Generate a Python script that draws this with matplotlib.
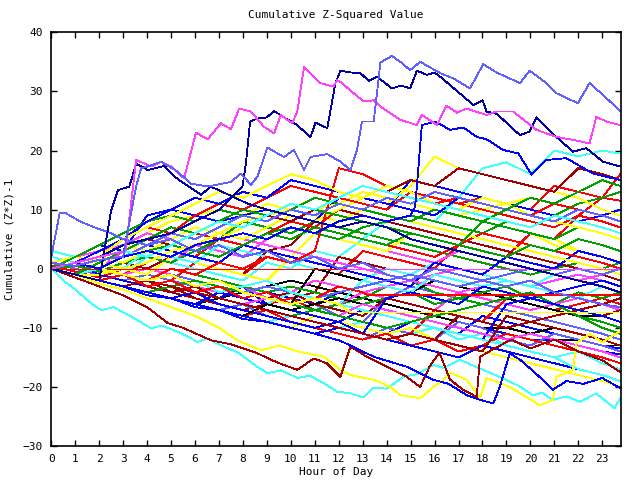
import matplotlib
matplotlib.use("Agg")
import matplotlib.pyplot as plt

TITLE = "Cumulative Z-Squared Value"
XLABEL = "Hour of Day"
YLABEL = "Cumulative (Z*Z)-1"
XTICKS = list(range(0, 24))
YTICKS = [-30, -20, -10, 0, 10, 20, 30, 40]

RED, GREEN, BLUE, MAGENTA, CYAN = '#ff0000', '#00a000', '#0000ff', '#ff40ff', '#40ffff'
DKRED, YELLOW, BLACK, LAV, NAVY = '#a00000', '#ffff00', '#000000', '#6060ff', '#0000a0'

HOURS = list(range(0, 24)) + [23.75]

# ---- prominent series (explicit hours) ----
mag_top_x = [0, 1, 2, 3.1, 3.3, 3.54, 4.17, 4.58, 5.0, 5.54, 6.04, 6.53, 7.08, 7.5, 7.84, 8.33, 8.88, 9.3, 9.58, 10.06,
             10.27, 10.55, 11.24, 11.78, 11.93, 12.07, 12.62, 13.04, 13.46, 13.74, 14.57, 15.26, 15.47, 16.1, 16.5, 16.93,
             17.34, 18.17, 18.59, 19.28, 20.25, 21.08, 21.78, 22.47, 22.75, 23.17, 23.75]
mag_top_y = [0, 1, 2, 3, 10, 18.4, 17.3, 18.1, 17.3, 15.3, 23.0, 21.9, 24.6, 23.6, 27.1, 26.6, 24.0, 22.9, 26.0, 24.6,
             26.6, 34.1, 31.4, 30.8, 31.9, 31.6, 29.7, 28.3, 28.5, 27.4, 25.2, 24.3, 26.0, 24.3, 27.6, 26.4,
             27.1, 26.0, 26.6, 26.6, 23.5, 22.3, 21.8, 21.2, 25.7, 24.9, 24.3]

lav_top_x = [0, 1, 2, 3, 3.33, 3.54, 3.75, 4.03, 4.58, 5.28, 5.83, 6.53, 7.5, 7.91, 8.33, 8.61, 9.02, 9.71, 10.13, 10.55,
             10.82, 11.52, 12.07, 12.49, 12.76, 12.97, 13.46, 13.74, 14.22, 14.57, 14.98, 15.4, 16.23, 16.78, 17.48,
             18.03, 18.59, 19.56, 19.97, 20.67, 21.08, 21.98, 22.47, 23.03, 23.75]
lav_top_y = [1, 0.5, 1.5, 2, 9.4, 13.9, 17.0, 17.3, 18.1, 16.4, 14.4, 13.9, 14.7, 16.1, 14.2, 15.6, 20.5, 18.9, 20.1, 16.7,
             18.9, 19.4, 18.1, 16.7, 20.1, 24.9, 24.9, 34.9, 36.0, 35.0, 33.6, 35.0, 33.1, 32.2, 30.5,
             34.6, 33.2, 31.4, 33.5, 31.4, 29.7, 28.0, 31.4, 29.4, 26.7]

lav_early_x = [0, 0.35, 0.6, 1.2, 1.8, 2.5, 3, 4, 5, 6, 7, 8, 9, 10, 11, 12, 13, 14, 15, 16, 17, 18, 19, 20, 21, 22, 23, 23.75]
lav_early_y = [2, 9.4, 9.4, 8, 7, 6, 5, 4, 5, 3, 4, 2, 3, 1, 2, 0, 1, -1, -2, 0, -1, -2, -3, -2, -4, -5, -6, -6.5]

navy_big_x = [0, 1, 2, 3, 4, 5, 6, 7, 7.98, 8.13, 8.3, 8.6, 9.0, 9.3, 9.71, 10.2, 10.82, 11.03, 11.52, 11.86, 12.07, 12.49,
              12.9, 13.25, 13.6, 14.22, 14.6, 14.98, 15.26, 15.68, 16.0, 16.23, 17.62, 18.0, 18.17, 18.6, 19.56, 19.97,
              20.25, 21.08, 21.78, 22.33, 23.03, 23.75]
navy_big_y = [0, 1, 2, 4, 5, 6, 8, 10, 13.9, 18, 24.9, 25.4, 25.6, 26.7, 25.6, 24.5, 22.3, 24.7, 23.8, 31.4, 33.5, 33.2,
              33.1, 31.8, 32.5, 30.5, 31, 30.5, 33.5, 32.8, 33.2, 32.5, 27.7, 28.5, 26.6, 26.2, 22.6, 23.2,
              25.6, 22.3, 19.8, 20.4, 18.1, 17.3]

navy_early_x = [0, 1, 2, 2.5, 2.78, 3.26, 3.54, 4.03, 4.72, 5.14, 5.55, 6.25, 6.66, 7.57, 8.2, 9, 10, 11, 12, 13, 14, 15,
                16, 17, 18, 19, 20, 21, 22, 23, 23.75]
navy_early_y = [0, -1, -2, 9.9, 13.3, 13.9, 17.8, 16.7, 17.4, 15.6, 14.4, 12.5, 13.9, 12.2, 11, 10, 9, 8, 7, 8, 7, 5,
                4, 3, 2, 1, 0, -1, -2, -3, -4]

blue_jump_x = list(range(0, 16)) + [15.19, 15.47, 16.02, 16.65, 17.2, 17.76, 18.17, 18.86, 19.5, 20.05, 20.67, 21.5,
                                    22.61, 23.75]
blue_jump_y = [0, 1, 0, 2, 3, 2, 4, 5, 6, 5, 7, 6, 8, 9, 8, 9, 10.5, 24.3, 24.9, 23.5, 23.9, 22.3, 21.9, 20.1, 19.5,
               15.9, 18.4, 18.7, 16.1, 15.0]

cyan_low_x = [0, 0.5, 1, 1.67, 2.09, 2.6, 3.34, 4.17, 4.6, 5.42, 6.11, 6.5, 7.22, 7.8, 8.6, 9.02, 9.6, 10.27, 10.8, 11.38,
              11.93, 12.49, 13.04, 13.46, 14.0, 14.7, 15.3, 15.95, 16.4, 17.06, 17.9, 19.0, 19.5, 20.11, 20.5, 20.94,
              21.5, 22.06, 22.75, 23.51, 23.75]
cyan_low_y = [0, -2, -3.5, -5.9, -7.0, -6.5, -8.1, -10.1, -9.6, -10.9, -12.4, -11.8, -13.2, -14.2, -16.6, -17.7, -17.2,
              -18.5, -18.1, -19.4, -20.8, -21.1, -21.8, -20.1, -20.3, -18.3, -17.8, -16.3, -16.8, -15.4, -16.9, -18.8,
              -19.8, -21.4, -21.0, -22.2, -21.6, -22.5, -21.1, -23.6, -21.9]

yellow_low_x = [0, 1, 2, 3, 4, 5, 6, 7, 7.77, 8.74, 9.5, 10.3, 11.38, 12.07, 12.49, 13.46, 14.15, 14.57, 15.4, 15.95,
                16.37, 16.65, 17.34, 17.9, 18.17, 19.14, 19.83, 20.39, 20.94, 21.08, 21.78, 21.92, 22.5, 23.0, 23.75]
yellow_low_y = [0, -1, -2.5, -3.5, -5, -6.5, -8, -10, -12.1, -13.8, -13, -14, -14.9, -17.1, -18.0, -18.8, -20.0, -21.4,
                -21.9, -20.0, -18.8, -17.6, -18.8, -21.9, -18.5, -20.0, -21.7, -23.1, -22.2, -18.3, -17.1, -12.6,
                -11.0, -12.5, -10.5]

dkred_low_x = [0, 1, 2, 3, 4, 4.86, 5.5, 6.66, 7.5, 8.6, 9.16, 9.71, 10.27, 10.96, 11.5, 12.07, 12.49, 13.18, 14.01,
               14.8, 15.4, 15.8, 16.2, 16.65, 17.2, 17.76, 17.9, 18.5, 19.2, 20, 21, 22, 23, 23.75]
dkred_low_y = [0, -1.5, -3, -4.5, -6.5, -9.2, -10, -12.1, -12.8, -14.3, -15.4, -16.3, -17.1, -15.2, -16, -18.3, -13.2,
               -14.9, -16.6, -18.2, -20.0, -16.5, -14.2, -18.8, -20.5, -21.7, -14.9, -13.5, -12.0, -13.5, -12, -14,
               -15.5, -17.5]

blue_low_x = [0, 1, 2, 3, 4, 5, 6, 7, 8, 9, 10, 11, 12.07, 13.46, 14.84, 15.95, 16.6, 17.34, 17.9, 18.45, 18.72, 19.14,
              19.6, 20.3, 20.94, 21.5, 22.2, 23.0, 23.75]
blue_low_y = [0, -1, -2, -3, -4.5, -5, -6.5, -7, -8.5, -9, -10, -11, -12.2, -14.9, -16.6, -18.8, -19.5, -21.4, -22.2,
              -22.8, -20.0, -14.3, -15.5, -18, -20.5, -19, -19.5, -18.5, -20.2]

red_flat0_x = [0, 12.07]
red_flat0_y = [0, 0]
mag_flat0_x = [12.07, 23.75]
mag_flat0_y = [0, 0]
red_flat_x = list(range(0, 14)) + [13.18, 23.75]
red_flat_y = [0, -1, -2, -1, -3, -2, -4, -3, -5, -4, -6, -5, -3, -4, -4.45, -4.45]
yel_flat_x = list(range(0, 13)) + [12.5, 23.75]
yel_flat_y = [0, 1, 0, -1, -2, -1, -3, -2, -4, -5, -6, -5, -6, -7.4, -7.4]

# ---- hourly series (values at HOURS) ----
m01 = [0.5, -0.5, -1.5, 0, -1, -2, 1, 0, -1, 2, 1, 0, -1, 3, 2, 1, 0, 4, 3, 2, 6, 5, 9, 12, 16]
m02 = [0, 1, 2, 3, 5, 4, 6, 5, 8, 7, 6, 8, 7, 6, 5, 4, 3, 2, 1, 0, -1, 0, 1, 0, 1]
m03 = [1, 0, -1, -2, -3, -2, -4, -5, -3, -4, -5, -6, -4, -5, -6, -7, -8, -9, -10, -11, -12, -12, -13, -14, -14.5]
m04 = [0, -1, 0, 3, 2, 1, 4, 3, 2, 5, 7, 6, 5, 4, 3, 2, 1, 3, 2, 1, 0, -1, -2, -1, -2]
m05 = [2, 1, 0, -1, 2, 1, 0, -1, -2, 1, 0, 3, 2, 5, 8, 9, 8, 12, 17, 18, 16, 20, 19, 20, 19.5]
m06 = [0, -1, -2, -3, -4, -3, -5, -6, -7, -6, -5, -4, 2, 1, 0, -1, -2, -3, -4, -3, -5, -6, -7, -8, -9]
m07 = [0, 2, 3, 4, 6, 8, 9, 10, 9, 11, 10, 9, 8, 10, 12, 11, 10, 9, 8, 7, 6, 5, 3, 2, 1]
m08 = [0, -1, -2, -3, -4, -5, -6, -5, -4, -3, -2, -3, -4, -5, -6, -7, -8, -9, -10, -10, -11, -12, -12, -13, -13]
m09 = [1, 0, -1, -2, -1, -2, -3, -4, -5, -6, -7, -6, -8, -9, -5, -3, -4, -5, -6, -7, -8, -9, -10, -11, -12]
m10 = [0, 1, 0, -1, 1, 3, 2, 5, 4, 6, 8, 7, 10, 12, 14, 13, 12, 11, 12, 11, 10, 14, 13, 12, 11.5]
m11 = [0, -1, -1, -2, -3, -2, -4, -5, -6, -7, -8, -7, -6, -5, -3, -2, -4, -5, -6, -5, -6, -7, -8, -9, -10]
m12 = [0, 1, -1, -2, -3, -2, -4, -5, -3, -6, -7, -8, -9, -10, -11, -9, -10, -11, -8, -9, -10, -11, -12, -13, -13.5]
m13 = [0, -1, -2, -1, 0, -1, -2, -3, -4, -3, -4, -5, -6, -4, -5, -6, -7, -4, -5, -6, -7, -6, -7, -8, -7]
m14 = [0, -1, -2, -3, -4, -5, -6, -7, -8, -9, -8, -9, -10, -9, -10, -11, -10, -12, -11, -13, -14, -15, -14, -16, -17]
m15 = [0, 1, 2, 1, 0, 2, 1, 0, -1, 3, 4, 8, 10, 9, 8, 7, 6, 5, 4, 3, 2, 1, 0, -1, -2]
m16 = [0, -1, -1, 0, -1, 2, 1, 0, -1, -2, 2, 6, 5, 4, 3, 6, 5, 4, 8, 7, 6, 4, 3, 2, 1]
m17 = [0, 2, 4, 3, 9, 10, 9, 8, 9, 10, 9, 8, 12, 11, 10, 15, 14, 13, 12, 11, 10, 9, 8, 9, 10]
m18 = [0, 0.5, -0.5, 1, 2, 1, 3, 5, 4, 6, 7, 6, 5, 7, 8, 9, 8, 7, 6, 8, 7, 9, 11, 12, 13]
m19 = [0, -1, -2, -3, -4, -3, -2, -4, -5, -6, -5, -7, -8, -9, -10, -11, -7, -8, -9, -5, -6, -7, -6, -5, -6]
m20 = [0, 1, 0, -1, -2, -1, -3, -4, -3, -5, -4, -2, -3, -4, -3, -2, -1, 0, -1, -2, -3, -2, -1, -2, -3]
m21 = [3, 2, 1, 0, 3, 2, 1, 4, 3, 2, 1, 0, -1, -2, 0, -1, 1, 0, -1, -2, -3, -1, -2, -3, -4]
m22 = [0, -1, -2, -3, -2, -3, -4, -5, -6, -5, -6, 0, -1, -2, -3, -4, -2, -3, -4, -5, -6, -7, -8, -8, -9]
m23 = [0, -1, -2, -3, -4, -5, -6, -7, -6, -8, -9, -10, -11, -12, -10, -11, -12, -9, -10, -12, -13, -11, -12, -13, -14]
m24 = [0, -1, -2, -1, -3, -4, -5, -6, -7, -8, -9, -10, -9, -11, -12, -13, -12, -8, -9, -10, -9, -8, -7, -6, -5]
m25 = [0, -1, -2, -3, -4, -5, -6, -7, -8, -9, -10, -8, -9, -10, -11, -10, -12, -13, -14, -15, -16, -17, -18, -19, -20]
m26 = [0, 1, 2, 5, 4, 3, 2, 1, 4, 3, 2, 1, 0, -1, -2, -3, 1, 0, -1, 2, 1, 0, 3, 2, 1]
m27 = [0, 1, 0, -1, -2, 0, -1, -2, -3, -4, -3, -4, -5, -6, -5, -4, -6, -5, -4, -3, -5, -6, -4, -5, -4]
m28 = [0, 1, 2, 3, 2, 4, 6, 5, 4, 6, 8, 7, 6, 5, 4, 3, 2, 4, 6, 5, 4, 3, 2, 1, 0]
m29 = [1, 2, 3, 4, 6, 5, 7, 6, 5, 4, 3, 2, 1, 0, -1, -2, -3, -4, -3, -4, -5, -6, -5, -6, -7]
m30 = [0, -1, -2, -3, -2, -3, -4, -3, -5, -6, -4, -5, -6, -2, -3, -4, -1, -2, -3, -2, -3, -4, -5, -3, -4]
m31 = [0, -1, -2, -3, -2, -4, -3, -5, -6, -5, -4, -6, -7, -8, -5, -6, -7, -8, -9, -10, -9, -8, -7, -8, -7]
m32 = [0, 1, 2, 4, 3, 5, 7, 6, 8, 9, 8, 10, 11, 10, 9, 8, 7, 6, 5, 4, 3, 2, 1, 0, -1]
m33 = [0, -1, -2, -3, -4, -5, -6, -4, -5, -6, -7, -8, -9, -7, -8, -9, -10, -11, -12, -6, -5, -4, -3, -2, -3]
m34 = [0, 1, 2, 1, 3, 4, 3, 2, 4, 6, 5, 7, 6, 5, 4, 6, 5, 4, 3, 2, 4, 3, 5, 4, 3]
m35 = [0, -1, 0, -1, -2, -1, -2, -3, -4, -3, -4, -5, -4, -3, -2, -1, -2, -3, -2, -1, 0, -1, 0, -1, 0]
m36 = [0, -1, -2, -3, -4, -5, -6, -7, -8, -7, -9, -10, -11, -12, -11, -13, -12, -14, -13, -11, -12, -13, -14, -15, -16]
m37 = [0, -1, -2, -3, -4, -5, -4, -6, -7, -8, -9, -10, -9, -11, -12, -13, -14, -15, -13, -14, -15, -16, -17, -18, -19]
m38 = [0, -1, -2, -3, -4, -5, -6, -7, -8, -6, -7, -6, -5, -6, -7, -8, -9, -10, -11, -12, -11, -10, -11, -12, -13]
m39 = [0, -1, 0, -1, -2, -3, -2, -4, -3, -2, -4, -5, -6, -7, -8, -9, -10, -11, -12, -13, -14, -15, -17, -18, -19]
m40 = [0, -1, -2, -3, -4, -3, -4, -5, -6, -5, -6, -7, -8, -6, -7, -8, -9, -10, -11, -12, -11, -12, -13, -14, -15]
m41 = [0, -1, -2, -3, -4, -3, -2, -3, -4, -5, -6, -7, -8, -9, -10, -9, -8, -7, -6, -5, -4, -6, -8, -10, -11]
m42 = [0, -1, -2, -3, -4, -5, -6, -7, -8, -9, -10, -11, -10, -11, -5, -4, -5, -6, -3, -4, -5, -6, -7, -8, -9]
m43 = [0, -1, -2, -1, -2, -3, -4, -5, -6, -7, -8, -9, -10, -11, -12, -11, -12, -13, -14, -8, -9, -10, -11, -12, -13]
m44 = [1, 2, 1, 0, 1, 3, 4, 5, 7, 9, 10, 12, 11, 13, 12, 11, 10, 9, 10, 11, 12, 11, 10, 9, 8]
m45 = [0, 1, 2, 1, 3, 2, 4, 6, 5, 7, 9, 8, 10, 12, 11, 14, 19, 17, 16, 15, 14, 13, 12, 10, 9]
m46 = [0, -1, -2, -1, -2, 0, -1, 1, 0, 2, 1, 3, 17, 16, 14, 13, 11, 12, 11, 10, 9, 11, 10, 9, 8]
m47 = [0, 1, 3, 5, 7, 6, 9, 11, 10, 12, 14, 13, 12, 11, 10, 13, 12, 11, 10, 9, 8, 7, 9, 8, 7]
m48 = [0, 2, 4, 6, 8, 9, 8, 10, 9, 8, 10, 12, 11, 10, 9, 8, 10, 9, 8, 7, 6, 5, 7, 6, 5]
m49 = [0, 1, 3, 5, 8, 10, 12, 11, 13, 12, 15, 14, 13, 12, 11, 10, 9, 12, 11, 10, 9, 8, 7, 6, 5]
m50 = [0, 1, 2, 5, 7, 9, 11, 13, 12, 14, 16, 15, 13, 12, 14, 13, 11, 10, 12, 11, 9, 8, 7, 6, 5]
m51 = [0, 1, 2, 3, 5, 4, 6, 8, 7, 9, 8, 10, 12, 14, 13, 15, 14, 17, 16, 15, 14, 13, 17, 16, 15]
m52 = [0, 1, 0, 2, 4, 6, 5, 7, 9, 8, 10, 9, 11, 10, 12, 11, 13, 12, 11, 10, 9, 8, 10, 9, 8]
m53 = [0, -1, 1, 3, 5, 7, 6, 8, 10, 9, 11, 10, 9, 8, 7, 6, 5, 4, 8, 10, 12, 11, 13, 15, 14]
m54 = [0, 1, 2, 3, 2, 4, 6, 8, 7, 9, 11, 10, 12, 14, 13, 12, 11, 10, 9, 8, 7, 9, 8, 7, 6]

HOURLY = [(m01, RED), (m02, GREEN), (m03, BLUE), (m04, MAGENTA), (m05, CYAN), (m06, DKRED), (m07, YELLOW),
          (m08, BLACK), (m09, LAV), (m10, RED), (m11, GREEN), (m12, BLUE), (m13, MAGENTA), (m14, CYAN),
          (m15, DKRED), (m16, YELLOW), (m17, BLUE), (m18, GREEN), (m19, RED), (m20, MAGENTA), (m21, CYAN),
          (m22, BLACK), (m23, LAV), (m24, DKRED), (m25, YELLOW), (m26, BLUE), (m27, GREEN), (m28, RED),
          (m29, MAGENTA), (m30, CYAN), (m31, DKRED), (m32, YELLOW), (m33, BLUE), (m34, GREEN), (m35, LAV),
          (m36, RED), (m37, BLUE), (m38, BLACK), (m39, CYAN), (m40, MAGENTA), (m41, GREEN), (m42, BLUE),
          (m43, DKRED), (m44, YELLOW), (m45, YELLOW), (m46, RED), (m47, RED), (m48, GREEN), (m49, BLUE),
          (m50, YELLOW), (m51, DKRED), (m52, LAV), (m53, GREEN), (m54, CYAN)]

EXPLICIT = [(red_flat0_x, red_flat0_y, RED), (mag_flat0_x, mag_flat0_y, MAGENTA),
            (red_flat_x, red_flat_y, RED), (yel_flat_x, yel_flat_y, YELLOW),
            (cyan_low_x, cyan_low_y, CYAN), (yellow_low_x, yellow_low_y, YELLOW),
            (dkred_low_x, dkred_low_y, DKRED), (blue_low_x, blue_low_y, BLUE),
            (lav_early_x, lav_early_y, LAV), (navy_early_x, navy_early_y, NAVY),
            (blue_jump_x, blue_jump_y, BLUE), (navy_big_x, navy_big_y, NAVY),
            (mag_top_x, mag_top_y, MAGENTA), (lav_top_x, lav_top_y, LAV)]

FONT = ['DejaVu Sans Mono']
plt.rcParams['font.family'] = FONT

fig = plt.figure(figsize=(6.4, 4.8), dpi=100)
ax = fig.add_axes([51.3 / 640, (480 - 446) / 480, (620.7 - 51.3) / 640, (446 - 32.3) / 480])

LW = 0.6
for ys, c in HOURLY:
    ax.plot(HOURS, ys, color=c, lw=LW, antialiased=False)
for xs, ys, c in EXPLICIT:
    ax.plot(xs, ys, color=c, lw=LW, antialiased=False)

ax.set_xlim(0, 23.77)
ax.set_ylim(-30, 40)
ax.set_xticks(XTICKS)
ax.set_yticks(YTICKS)
ax.tick_params(direction='in', length=4, width=1, top=True, right=True, labelsize=8, pad=6, colors='black')
for s in ax.spines.values():
    s.set_linewidth(1.2)

fig.text(336 / 640, 1 - 15 / 480, TITLE, ha='center', va='center', fontsize=8)
fig.text(336 / 640, 1 - 472 / 480, XLABEL, ha='center', va='center', fontsize=8)
fig.text(10 / 640, 1 - 239 / 480, YLABEL, ha='center', va='center', rotation=90, fontsize=8)

fig.savefig('out.png', dpi=100)
